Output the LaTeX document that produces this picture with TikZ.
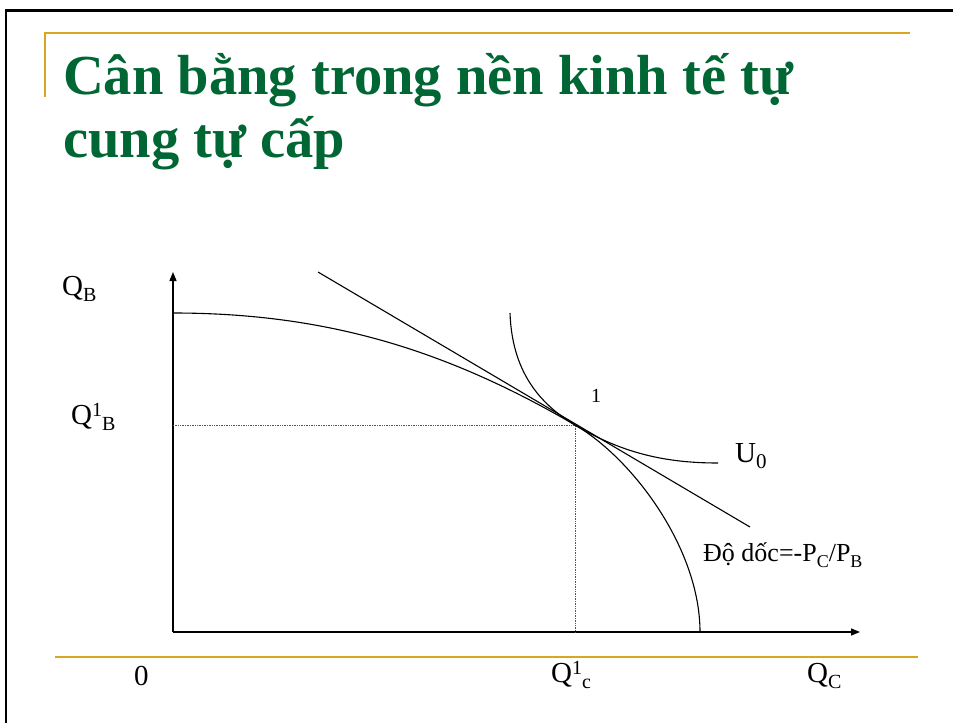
\documentclass[tikz,border=0pt]{standalone}
\usepackage{fontspec}
\setmainfont{Liberation Serif}
\usetikzlibrary{
  positioning,
  arrows.meta,
  calc,
}
\definecolor{titleGreen}{HTML}{006633}
\definecolor{ruleGold}{HTML}{DAA520}
\definecolor{frameCol}{HTML}{000000}
\definecolor{guideGray}{HTML}{555555}
\newcommand{\lblsub}[2][20]{\raisebox{-6pt}{\fontsize{#1}{#1}\selectfont #2}}
\newcommand{\lblsup}[2][20]{\raisebox{8pt}{\fontsize{#1}{#1}\selectfont #2}}
\tikzset{
  frameline/.style={draw=frameCol, line width=2.5pt},
  goldline/.style={draw=ruleGold, line width=2pt},
  titletext/.style={
    anchor=base west, inner sep=0pt, text=titleGreen,
    font=\fontsize{56.5}{64}\selectfont\bfseries,
  },
  axis/.style={-{Triangle[length=9pt,width=7pt]}, line width=1.4pt},
  curve/.style={line width=1.1pt},
  guide/.style={guideGray, line width=0.7pt, densely dotted},
  axislabel/.style={anchor=base west, inner sep=0pt, font=\fontsize{29}{29}\selectfont},
  smalllabel/.style={anchor=base west, inner sep=0pt, font=\fontsize{26}{26}\selectfont},
}

\begin{document}
\begin{tikzpicture}[x=1pt, y=-1pt]

  \useasboundingbox (0,0) rectangle (953,723);

  % Slide frame and rules
  \draw[frameline] (953,10.5) -- (6,10.5) -- (6,723);
  \draw[goldline] (910,33) -- (45,33) -- (45,97);
  \draw[goldline] (55,657) -- (918,657);

  % Title
  \node[titletext] (title1) at (63,94) {Cân bằng trong nền kinh tế tự};
  \node[titletext] (title2) at (63,157) {cung tự cấp};

  % Axes
  \coordinate (O) at (173,632);
  \coordinate (ytop) at (173,272);
  \coordinate (xend) at (860,632);
  \draw[axis] (O) -- (ytop);
  \draw[axis] (O) -- (xend);

  % Equilibrium point and guides
  \coordinate (E) at (575,425);
  \coordinate (EB) at (173,425);
  \coordinate (EC) at (575,632);
  \draw[guide] (EB) -- (E) -- (EC);

  % Production possibility frontier
  \coordinate (ppfA) at (173,313);
  \coordinate (ppfB) at (700,632);
  \draw[curve] (ppfA) .. controls (330,313) and (450,352) .. (E)
                      .. controls (632,458) and (700,548) .. (ppfB);

  % Budget line (tangent)
  \coordinate (lineA) at (318,272);
  \coordinate (lineB) at (750,527);
  \draw[curve] (lineA) -- (lineB);

  % Indifference curve U0
  \coordinate (uA) at (510,313);
  \coordinate (uB) at (718,463);
  \draw[curve] (uA) .. controls (512,370) and (538,403) .. (E)
                    .. controls (625,455) and (670,463) .. (uB);

  % Labels
  \node[axislabel] (qb) at (62,295) {Q\lblsub{B}};
  \node[axislabel] (qb1) at (71,424) {Q\lblsup{1}\lblsub{B}};
  \node[axislabel] (zero) at (134,685) {0};
  \node[axislabel] (qc1) at (551,682) {Q\lblsup{1}\lblsub{c}};
  \node[axislabel] (qc) at (807,682) {Q\lblsub{C}};
  \node[axislabel] (u0) at (735,462) {U\lblsub[21]{0}};
  \node[anchor=base west, inner sep=0pt, font=\fontsize{20}{20}\selectfont] (pt1) at (591,402) {1};
  \node[smalllabel] (slope) at (703,561) {Độ dốc=-P\lblsub[18]{C}/P\lblsub[18]{B}};

\end{tikzpicture}
\end{document}
